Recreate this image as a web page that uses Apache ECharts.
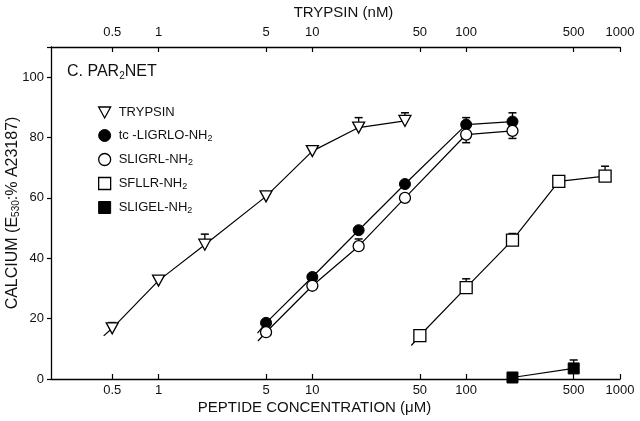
<!DOCTYPE html>
<html>
<head>
<meta charset="utf-8">
<script src="https://cdn.jsdelivr.net/npm/echarts@6/dist/echarts.min.js"></script>
<style>
  html, body { margin: 0; padding: 0; background: #fff; }
  #chart { width: 640px; height: 421px; }
</style>
</head>
<body>
<div id="chart"></div>
<script>
// values
const xTicks = [0.5, 1, 5, 10, 50, 100, 500, 1000];
const yTicks = [0, 20, 40, 60, 80, 100];
const seriesNames = ["TRYPSIN", "tc -LIGRLO-NH2", "SLIGRL-NH2", "SFLLR-NH2", "SLIGEL-NH2"];

const trypsinX = [0.5, 1, 2, 5, 10, 20, 40];
const trypsinY = [16.8, 32.6, 44.5, 60.5, 75.5, 83.3, 85.5];
const trypsinErr = [[0.5, 18.7], [2, 48], [10, 76.8], [20, 86.6], [40, 88.2]];
const trypsinTail = [0.44, 14.3];

const tcX = [5, 10, 20, 40, 100, 200];
const tcY = [18.6, 33.8, 49.3, 64.6, 84.3, 85.3];
const tcErr = [[100, 86.6], [200, 88.2]];
const tcTail = [4.4, 15.2];

const sligrlX = [5, 10, 20, 40, 100, 200];
const sligrlY = [15.5, 30.9, 44, 60, 81, 82.2];
const sligrlErr = [[20, 46.4], [100, 78.3], [200, 79.7]];
const sligrlTail = [4.43, 12.6];

const sfllrX = [50, 100, 200, 400, 800];
const sfllrY = [14.4, 30.3, 46, 65.5, 67.2];
const sfllrErr = [[100, 33.2], [200, 48.2], [800, 70.5]];
const sfllrTail = [44, 11.1];

const sligelX = [200, 500];
const sligelY = [0.5, 3.5];
const sligelErr = [[500, 6.3]];

const FONT = "Liberation Sans, Arial, sans-serif";
const INK = "#000";
const TXT = "#111";
const triDown = "path://M0,0L12,0L6,11Z";

const hollow = { color: "#fff", borderColor: INK, borderWidth: 1.3 };
const filled = { color: INK, borderColor: INK, borderWidth: 1 };

const groups = [
  { x: trypsinX, y: trypsinY, err: trypsinErr, tail: trypsinTail, symbol: triDown, size: [12, 11], style: hollow },
  { x: tcX, y: tcY, err: tcErr, tail: tcTail, symbol: "circle", size: 11, style: filled },
  { x: sligrlX, y: sligrlY, err: sligrlErr, tail: sligrlTail, symbol: "circle", size: 11, style: hollow },
  { x: sfllrX, y: sfllrY, err: sfllrErr, tail: sfllrTail, symbol: "rect", size: 12, style: hollow },
  { x: sligelX, y: sligelY, err: sligelErr, tail: null, symbol: "rect", size: 11, style: filled },
];

const errorData = [];
groups.forEach((g) => {
  g.err.forEach(([x, cap]) => {
    errorData.push([x, g.y[g.x.indexOf(x)], cap]);
  });
});

const lineSeries = groups.map((g, i) => {
  const data = g.x.map((x, k) => [x, g.y[k]]);
  if (g.tail) data.unshift({ value: g.tail, symbol: "none" });
  return {
    name: seriesNames[i],
    type: "line",
    z: 3,
    data,
    symbol: g.symbol,
    symbolSize: g.size,
    showAllSymbol: true,
    lineStyle: { color: INK, width: 1.2 },
    itemStyle: g.style,
    emphasis: { disabled: true },
    animation: false,
  };
});

const subRich = {
  a: { fontFamily: FONT, fontSize: 13, color: TXT, lineHeight: 14 },
  s: { fontFamily: FONT, fontSize: 9, color: TXT, lineHeight: 14, padding: [6, 0, 0, 0] },
};

function xAxis(position, name, nameGap, namePad, labelMargin) {
  return {
    type: "log",
    position,
    min: 0.2,
    max: 1000,
    name,
    nameLocation: "middle",
    nameGap,
    nameMoveOverlap: false,
    nameTextStyle: { fontFamily: FONT, fontSize: 15, color: TXT, padding: namePad },
    axisLine: { show: true, lineStyle: { color: INK, width: 1.3 } },
    axisTick: { show: true, inside: true, length: 5, customValues: xTicks, lineStyle: { color: INK, width: 1.2 } },
    axisLabel: { customValues: xTicks, fontFamily: FONT, fontSize: 13, color: TXT, margin: labelMargin,
      formatter: (v) => String(v) },
    minorTick: { show: false },
    splitLine: { show: false },
  };
}

const chart = echarts.init(document.getElementById("chart"), null, { renderer: "canvas" });
chart.setOption({
  backgroundColor: "#fff",
  animation: false,
  title: {
    text: "{a|C. PAR}{s|2}{a|NET}",
    left: 62,
    top: 58,
    textStyle: {
      rich: {
        a: { fontFamily: FONT, fontSize: 16, fontWeight: "normal", color: TXT, lineHeight: 18 },
        s: { fontFamily: FONT, fontSize: 10, fontWeight: "normal", color: TXT, lineHeight: 18, padding: [8, 0, 0, 0] },
      },
    },
  },
  legend: {
    orient: "vertical",
    left: 93,
    top: 101,
    itemWidth: 12,
    itemHeight: 12,
    itemGap: 9,
    data: seriesNames.map((n, i) => ({
      name: n,
      icon: groups[i].symbol,
      itemStyle: groups[i].style,
    })),
    formatter: (n) => n.endsWith("NH2") ? "{a|" + n.slice(0, -1) + "}{s|2}" : "{a|" + n + "}",
    textStyle: { padding: [0, 0, 0, 3], rich: subRich },
    selectedMode: false,
  },
  grid: { left: 51, right: 20, top: 47, bottom: 42, containLabel: false, outerBoundsMode: "none" },
  xAxis: [
    xAxis("bottom", "PEPTIDE CONCENTRATION (\u03bcM)", 21, [0, 42, 0, 0], 5),
    xAxis("top", "TRYPSIN (nM)", 27, [0, 0, 0, 16], 8),
  ],
  yAxis: {
    type: "value",
    min: 0,
    max: 110,
    interval: 20,
    name: "CALCIUM (E{s|530}:% A23187)",
    nameLocation: "middle",
    nameGap: 30,
    nameMoveOverlap: false,
    nameTextStyle: {
      fontFamily: FONT, fontSize: 16, color: TXT,
      rich: { s: { fontFamily: FONT, fontSize: 10, color: TXT, padding: [6, 0, 0, 0] } },
    },
    axisLine: { show: true, lineStyle: { color: INK, width: 1.3 } },
    axisTick: { show: true, inside: false, length: 4, lineStyle: { color: INK, width: 1.2 } },
    axisLabel: { fontFamily: FONT, fontSize: 13, color: TXT, margin: 7,
      formatter: (v) => (yTicks.includes(v) ? String(v) : "") },
    splitLine: { show: false },
  },
  series: [
    {
      type: "custom",
      z: 1,
      silent: true,
      data: errorData,
      encode: { x: 0, y: [1, 2] },
      renderItem: (params, api) => {
        const p = api.coord([api.value(0), api.value(1)]);
        const c = api.coord([api.value(0), api.value(2)]);
        return {
          type: "group",
          children: [
            { type: "line", shape: { x1: p[0], y1: p[1], x2: c[0], y2: c[1] }, style: { stroke: INK, lineWidth: 1.3 } },
            { type: "line", shape: { x1: c[0] - 4, y1: c[1], x2: c[0] + 4, y2: c[1] }, style: { stroke: INK, lineWidth: 1.5 } },
          ],
        };
      },
    },
    ...lineSeries,
  ],
});
</script>
</body>
</html>
